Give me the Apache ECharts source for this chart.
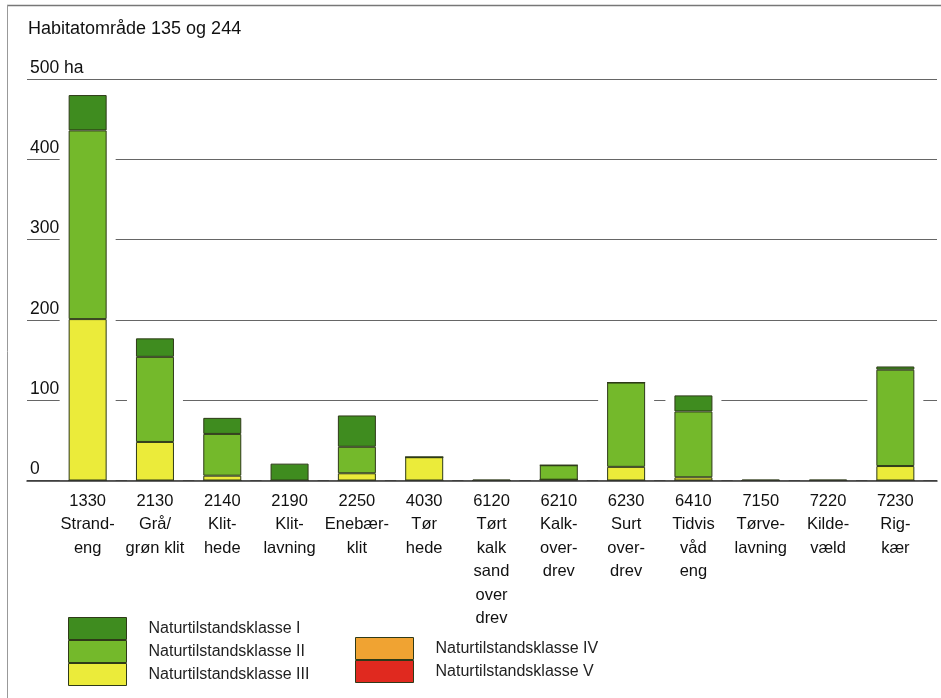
<!DOCTYPE html>
<html>
<head>
<meta charset="utf-8">
<script src="https://cdn.jsdelivr.net/npm/echarts@6/dist/echarts.min.js"></script>
<style>
html,body{margin:0;padding:0;background:#fff;}
#c{width:941px;height:698px;}
</style>
</head>
<body>
<div id="c"></div>
<script>
// ---- data ----
const codes = ['1330','2130','2140','2190','2250','4030','6120','6210','6230','6410','7150','7220','7230'];
const names = ['Strand-\neng','Grå/\ngrøn klit','Klit-\nhede','Klit-\nlavning','Enebær-\nklit','Tør\nhede','Tørt\nkalk\nsand\nover\ndrev','Kalk-\nover-\ndrev','Surt\nover-\ndrev','Tidvis\nvåd\neng','Tørve-\nlavning','Kilde-\nvæld','Rig-\nkær'];
const classI   = [44, 23, 20, 21, 39, 0, 1, 0, 0, 20, 1, 1, 4];
const classII  = [235, 106, 52, 0, 33, 0, 0, 18, 105, 82, 0, 0, 120];
const classIII = [201, 48, 6, 0, 9, 29, 0, 0, 17, 4, 0, 0, 18];
const classIV  = [0, 0, 0, 0, 0, 0, 0, 0, 0, 0, 0, 0, 0];
const classV   = [0, 0, 0, 0, 0, 0, 0, 1, 0, 0, 0, 0, 0];
const yTicks = [0, 100, 200, 300, 400, 500];
const seriesNames = ['Naturtilstandsklasse I','Naturtilstandsklasse II','Naturtilstandsklasse III','Naturtilstandsklasse IV','Naturtilstandsklasse V'];
const title = 'Habitatområde 135 og 244';

// ---- chart ----
const cats = codes.map((c, i) => c + '\n' + names[i]);
const totals = codes.map((c, i) => classI[i] + classII[i] + classIII[i] + classIV[i] + classV[i]);
const halo = totals.map(t => t > 0 ? t + 10 : 0);

const FONT = '"Liberation Sans", Arial, sans-serif';
const colors = ['#3f8c1f', '#74b92b', '#ebeb3a', '#f0a332', '#e0291f'];
const border = '#2e3a18';

const chart = echarts.init(document.getElementById('c'), null, {renderer: 'canvas'});

function barSeries(name, data, color) {
  return {
    name: name, type: 'bar', stack: 'tot', xAxisIndex: 1, yAxisIndex: 1,
    data: data, barWidth: 38, z: 3,
    itemStyle: {color: color, borderColor: border, borderWidth: 1},
    emphasis: {disabled: true}
  };
}

const legendCommon = {
  orient: 'vertical', itemWidth: 58, itemHeight: 22, itemGap: 0, icon: 'rect',
  selectedMode: false, padding: 0,
  itemStyle: {borderWidth: 1, borderColor: border},
  textStyle: {fontFamily: FONT, fontSize: 16, color: '#222', padding: [3, 0, 0, 17]}
};

const option = {
  animation: false,
  backgroundColor: '#fff',
  textStyle: {fontFamily: FONT},
  title: {
    text: title, left: 23, top: 15,
    textStyle: {fontFamily: FONT, fontSize: 18, fontWeight: 'normal', color: '#111'}
  },
  grid: [
    {left: 27, right: 4, top: 79, bottom: 217.5},
    {left: 54, right: 12, top: 79, bottom: 217.5}
  ],
  xAxis: [
    {type: 'value', gridIndex: 0, min: 0, max: 1, z: 10,
     axisLine: {show: true, lineStyle: {color: '#333', width: 1.5}},
     axisTick: {show: false}, axisLabel: {show: false}, splitLine: {show: false}},
    {type: 'category', gridIndex: 1, data: cats, z: 10,
     axisLine: {show: false}, axisTick: {show: false},
     axisLabel: {interval: 0, margin: 9, fontFamily: FONT, fontSize: 16.5, lineHeight: 23.5, color: '#111', align: 'center'}},
    {type: 'category', gridIndex: 1, data: cats, show: false}
  ],
  yAxis: [
    {type: 'value', gridIndex: 0, min: 0, max: 500, interval: 100,
     axisLine: {show: false}, axisTick: {show: false},
     axisLabel: {inside: true, margin: 3, align: 'left', verticalAlign: 'bottom', padding: [0, 0, 2, 0],
       fontFamily: FONT, fontSize: 17.5, color: '#111',
       formatter: v => v === 500 ? '500 ha' : String(v)},
     splitLine: {show: true, lineStyle: {color: '#666', width: 1}}},
    {type: 'value', gridIndex: 1, min: 0, max: 500, interval: 100, show: false}
  ],
  legend: [
    Object.assign({data: seriesNames.slice(0, 3), left: 68, top: 617}, legendCommon),
    Object.assign({data: seriesNames.slice(3, 5), left: 355, top: 637}, legendCommon)
  ],
  series: [
    {name: 'halo', type: 'bar', xAxisIndex: 2, yAxisIndex: 1, data: halo, barWidth: 56, z: 1,
     itemStyle: {color: '#fff'}, emphasis: {disabled: true}, silent: true},
    barSeries(seriesNames[4], classV, colors[4]),
    barSeries(seriesNames[3], classIV, colors[3]),
    barSeries(seriesNames[2], classIII, colors[2]),
    barSeries(seriesNames[1], classII, colors[1]),
    barSeries(seriesNames[0], classI, colors[0])
  ],
  graphic: [
    {type: 'line', shape: {x1: 7, y1: 5.5, x2: 941, y2: 5.5}, style: {stroke: '#777', lineWidth: 1.5}, z: 20},
    {type: 'line', shape: {x1: 7.5, y1: 5, x2: 7.5, y2: 698}, style: {stroke: '#999', lineWidth: 1}, z: 20}
  ]
};
chart.setOption(option);
</script>
</body>
</html>
